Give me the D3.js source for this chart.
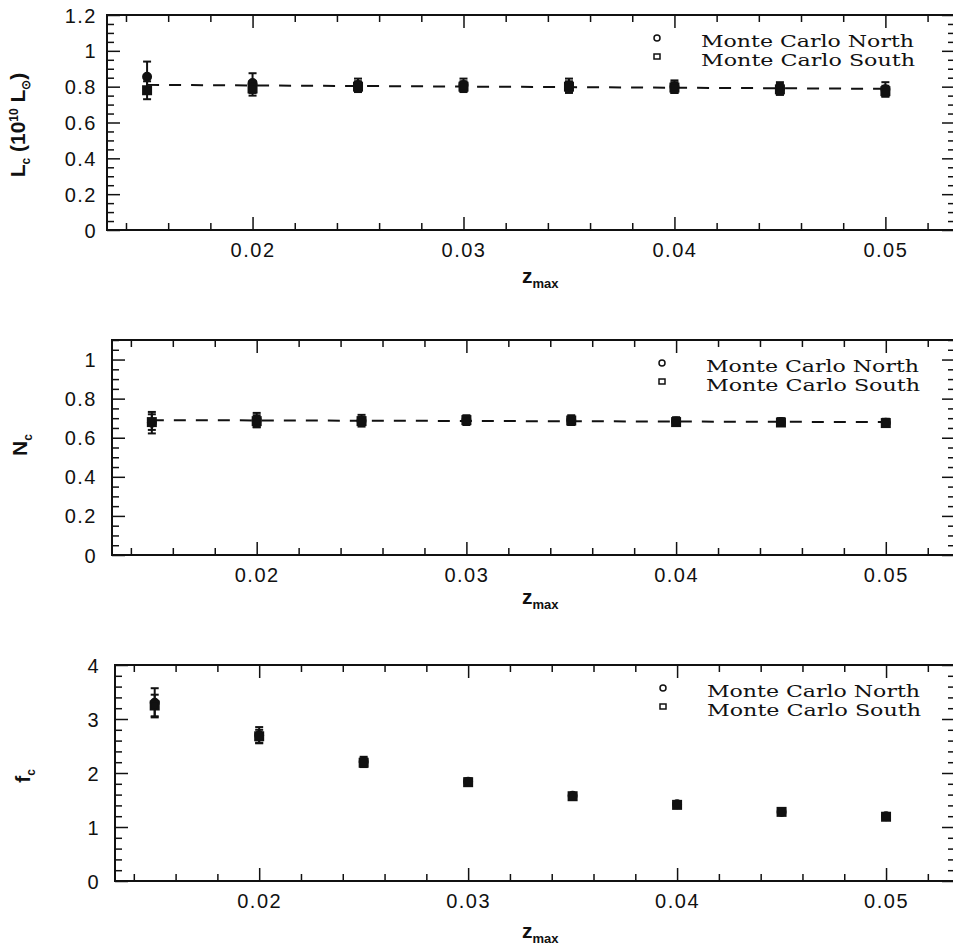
<!DOCTYPE html>
<html>
<head>
<meta charset="utf-8">
<script src="https://cdn.jsdelivr.net/npm/d3@7"></script>
<style>
  body { margin: 0; background: #fff; }
  svg { display: block; }
  .tick-label { font-family: "Liberation Sans", Arial, sans-serif; font-size: 20px; letter-spacing: 1.5px; fill: #111; }
  .legend { font-family: "DejaVu Serif", serif; font-size: 16px; fill: #111; }
  .title { font-family: "Liberation Sans", Arial, sans-serif; font-size: 21px; font-weight: bold; fill: #111; }
</style>
</head>
<body>
<svg id="chart" width="953" height="949"></svg>
<script>
// datos
const zmax = [0.015, 0.02, 0.025, 0.03, 0.035, 0.04, 0.045, 0.05];
const xMajorTicks = [0.02, 0.03, 0.04, 0.05];

// panel 1: L_c
const lumNorth    = [0.855, 0.82, 0.81, 0.81, 0.805, 0.80, 0.79, 0.785];
const lumNorthErr = [0.085, 0.055, 0.035, 0.035, 0.04, 0.035, 0.035, 0.04];
const lumSouth    = [0.78, 0.79, 0.80, 0.80, 0.80, 0.795, 0.785, 0.775];
const lumSouthErr = [0.05, 0.04, 0.03, 0.03, 0.03, 0.03, 0.03, 0.03];
const lumFit = [0.81, 0.788];
const lumTicks = [0, 0.2, 0.4, 0.6, 0.8, 1, 1.2];

// panel 2: N_c
const numNorth    = [0.677, 0.69, 0.687, 0.69, 0.69, 0.683, 0.68, 0.677];
const numNorthErr = [0.055, 0.037, 0.03, 0.025, 0.025, 0.022, 0.02, 0.02];
const numSouth    = [0.68, 0.685, 0.685, 0.69, 0.688, 0.68, 0.678, 0.675];
const numSouthErr = [0.04, 0.03, 0.02, 0.02, 0.02, 0.018, 0.018, 0.018];
const numFit = [0.69, 0.68];
const numTicks = [0, 0.2, 0.4, 0.6, 0.8, 1];

// panel 3: f_c
const fcNorth    = [3.30, 2.70, 2.21, 1.84, 1.58, 1.42, 1.28, 1.20];
const fcNorthErr = [0.27, 0.15, 0.09, 0.06, 0.05, 0.04, 0.04, 0.04];
const fcSouth    = [3.25, 2.68, 2.19, 1.83, 1.57, 1.41, 1.28, 1.19];
const fcSouthErr = [0.20, 0.12, 0.08, 0.05, 0.04, 0.04, 0.03, 0.03];
const fcTicks = [0, 1, 2, 3, 4];

const legendLabels = ["Monte Carlo North", "Monte Carlo South"];

const svg = d3.select("#chart");
const xDomain = [0.0131, 0.0533];

const panels = [
  { left: 107, top: 15, bottom: 230, yMax: 1.2, yTicks: lumTicks, yMinor: 0.05, fmt: d3.format("~g"),
    north: lumNorth, northErr: lumNorthErr, south: lumSouth, southErr: lumSouthErr, fit: lumFit,
    legendX: 657, legendY: 38, labelGap: 10, titleY: 125, titleX: 25, title: "lum", zTitleY: 283 },
  { left: 112, top: 340, bottom: 555, yMax: 1.1, yTicks: numTicks, yMinor: 0.05, fmt: d3.format("~g"),
    north: numNorth, northErr: numNorthErr, south: numSouth, southErr: numSouthErr, fit: numFit,
    legendX: 662, legendY: 363, labelGap: 15, titleY: 445, titleX: 27, title: "num", zTitleY: 604 },
  { left: 115, top: 665, bottom: 881, yMax: 4, yTicks: fcTicks, yMinor: 0.2, fmt: d3.format("d"),
    north: fcNorth, northErr: fcNorthErr, south: fcSouth, southErr: fcSouthErr, fit: null,
    legendX: 663, legendY: 688, labelGap: 15, titleY: 776, titleX: 30, title: "fc", zTitleY: 938 }
];

panels.forEach(p => {
  const right = 955;
  const x = d3.scaleLinear().domain(xDomain).range([p.left, right]);
  const y = d3.scaleLinear().domain([0, p.yMax]).range([p.bottom, p.top]);
  const g = svg.append("g");

  // marco
  g.append("rect")
    .attr("x", p.left).attr("y", p.top)
    .attr("width", right - p.left).attr("height", p.bottom - p.top)
    .attr("fill", "none").attr("stroke", "#111").attr("stroke-width", 2);

  // ticks en x (abajo y arriba, hacia dentro)
  const xMinor = d3.range(0.014, 0.0534, 0.002).filter(v => !xMajorTicks.some(m => Math.abs(m - v) < 1e-6));
  const xAxisB = d3.axisBottom(x).tickValues(xMajorTicks).tickSizeInner(-13).tickSizeOuter(0).tickFormat(d3.format(".2f"));
  const gxb = g.append("g").attr("transform", `translate(0,${p.bottom})`).call(xAxisB);
  gxb.select(".domain").remove();
  gxb.selectAll("line").attr("stroke", "#111").attr("stroke-width", 1.5);
  gxb.selectAll("text").attr("class", "tick-label").attr("y", 27).attr("dy", 0).attr("fill", null);

  const gxbm = g.append("g").attr("transform", `translate(0,${p.bottom})`)
    .call(d3.axisBottom(x).tickValues(xMinor).tickSizeInner(-7).tickSizeOuter(0).tickFormat(""));
  gxbm.select(".domain").remove();
  gxbm.selectAll("line").attr("stroke", "#111").attr("stroke-width", 1.5);

  const gxt = g.append("g").attr("transform", `translate(0,${p.top})`)
    .call(d3.axisTop(x).tickValues(xMajorTicks).tickSizeInner(-13).tickSizeOuter(0).tickFormat(""));
  gxt.select(".domain").remove();
  gxt.selectAll("line").attr("stroke", "#111").attr("stroke-width", 1.5);
  const gxtm = g.append("g").attr("transform", `translate(0,${p.top})`)
    .call(d3.axisTop(x).tickValues(xMinor).tickSizeInner(-7).tickSizeOuter(0).tickFormat(""));
  gxtm.select(".domain").remove();
  gxtm.selectAll("line").attr("stroke", "#111").attr("stroke-width", 1.5);

  // ticks en y
  const yMinorVals = d3.range(0, p.yMax + 1e-9, p.yMinor)
    .filter(v => !p.yTicks.some(m => Math.abs(m - v) < 1e-6));
  [[d3.axisLeft, p.left, 1], [d3.axisRight, right, -1]].forEach(([axisFn, pos, side]) => {
    const ga = g.append("g").attr("transform", `translate(${pos},0)`)
      .call(axisFn(y).tickValues(p.yTicks).tickSizeInner(-13).tickSizeOuter(0)
        .tickFormat(side === 1 ? p.fmt : ""));
    ga.select(".domain").remove();
    ga.selectAll("line").attr("stroke", "#111").attr("stroke-width", 1.5);
    ga.selectAll("text").attr("class", "tick-label").attr("x", -p.labelGap).attr("dy", "0.35em")
      .attr("fill", null);
    const gm = g.append("g").attr("transform", `translate(${pos},0)`)
      .call(axisFn(y).tickValues(yMinorVals).tickSizeInner(-7).tickSizeOuter(0).tickFormat(""));
    gm.select(".domain").remove();
    gm.selectAll("line").attr("stroke", "#111").attr("stroke-width", 1.5);
  });
  g.selectAll(".tick text").attr("font-size", null).attr("font-family", null);

  // linea de ajuste
  if (p.fit) {
    g.append("line")
      .attr("x1", x(zmax[0])).attr("y1", y(p.fit[0]))
      .attr("x2", x(zmax[zmax.length - 1])).attr("y2", y(p.fit[1]))
      .attr("stroke", "#111").attr("stroke-width", 2).attr("stroke-dasharray", "12 10");
  }

  // barras de error y marcadores
  const series = [
    { vals: p.north, errs: p.northErr, shape: "circle" },
    { vals: p.south, errs: p.southErr, shape: "square" }
  ];
  series.forEach(s => {
    const pts = zmax.map((z, i) => ({ z, v: s.vals[i], e: s.errs[i] }));
    const eg = g.append("g").selectAll("g").data(pts).enter().append("g");
    eg.append("line")
      .attr("x1", d => x(d.z)).attr("x2", d => x(d.z))
      .attr("y1", d => y(d.v - d.e)).attr("y2", d => y(d.v + d.e))
      .attr("stroke", "#111").attr("stroke-width", 2);
    [-1, 1].forEach(sg => {
      eg.append("line")
        .attr("x1", d => x(d.z) - 4).attr("x2", d => x(d.z) + 4)
        .attr("y1", d => y(d.v + sg * d.e)).attr("y2", d => y(d.v + sg * d.e))
        .attr("stroke", "#111").attr("stroke-width", 2);
    });
    if (s.shape === "circle") {
      eg.append("circle")
        .attr("cx", d => x(d.z)).attr("cy", d => y(d.v)).attr("r", 4)
        .attr("fill", "#111").attr("stroke", "#111").attr("stroke-width", 2);
    } else {
      eg.append("rect")
        .attr("x", d => x(d.z) - 4).attr("y", d => y(d.v) - 4)
        .attr("width", 8).attr("height", 8)
        .attr("fill", "#111").attr("stroke", "#111").attr("stroke-width", 2);
    }
  });

  // leyenda
  const lg = g.append("g");
  lg.append("circle").attr("cx", p.legendX).attr("cy", p.legendY).attr("r", 3)
    .attr("fill", "none").attr("stroke", "#111").attr("stroke-width", 1.5);
  lg.append("rect").attr("x", p.legendX - 3).attr("y", p.legendY + 16).attr("width", 6).attr("height", 5)
    .attr("fill", "none").attr("stroke", "#111").attr("stroke-width", 1.5);
  legendLabels.forEach((t, i) => {
    lg.append("text").attr("class", "legend")
      .attr("x", p.legendX + 44).attr("y", p.legendY + 9 + i * 19)
      .attr("textLength", 213 + i).attr("lengthAdjust", "spacingAndGlyphs")
      .text(t);
  });

  // titulo eje x
  const zt = g.append("text").attr("class", "title")
    .attr("x", 522).attr("y", p.zTitleY);
  zt.append("tspan").text("z");
  zt.append("tspan").attr("dy", 5).style("font-size", "13px").text("max");

  // titulo eje y
  const yt = g.append("text").attr("class", "title")
    .attr("transform", `translate(${p.titleX},${p.titleY}) rotate(-90)`)
    .attr("text-anchor", "middle");
  if (p.title === "lum") {
    yt.append("tspan").text("L");
    yt.append("tspan").attr("dy", 5).style("font-size", "12px").text("c");
    yt.append("tspan").attr("dy", -5).text(" (10");
    yt.append("tspan").attr("dy", -7).style("font-size", "12px").text("10");
    yt.append("tspan").attr("dy", 7).text(" L");
    yt.append("tspan").attr("dy", 5).style("font-size", "12px").text("⊙");
    yt.append("tspan").attr("dy", -5).text(")");
  } else {
    yt.append("tspan").text(p.title === "num" ? "N" : "f");
    yt.append("tspan").attr("dy", 5).style("font-size", "12px").text("c");
  }
});
</script>
</body>
</html>
